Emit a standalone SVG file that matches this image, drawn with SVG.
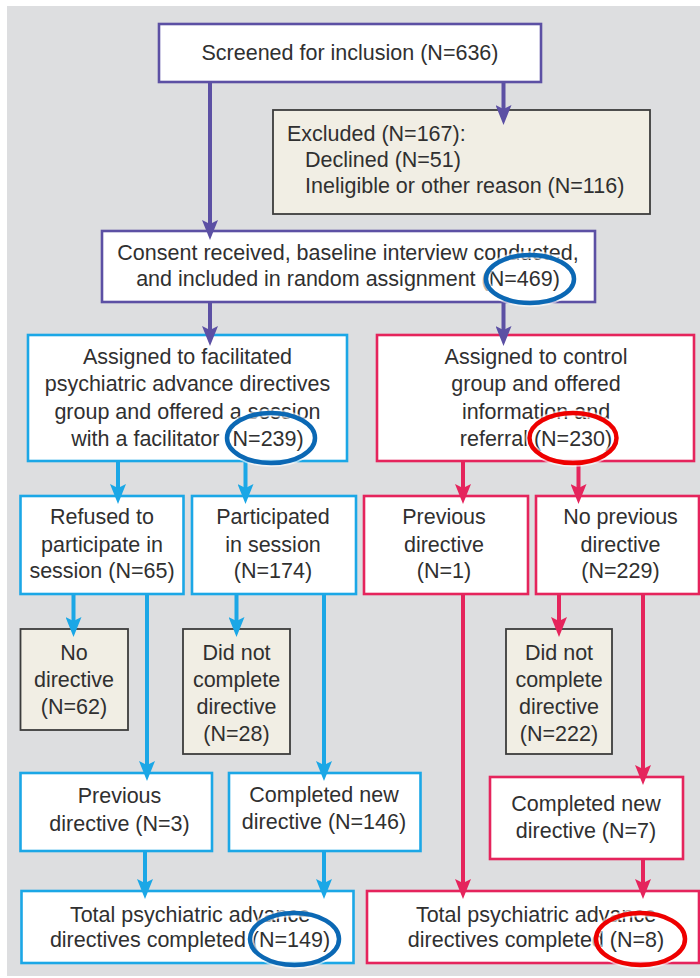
<svg xmlns="http://www.w3.org/2000/svg" width="700" height="978" viewBox="0 0 700 978">
<style>
.t{font-family:"Liberation Sans",Arial,sans-serif;font-size:21.5px;fill:#303030}
.c{text-anchor:middle}
.bp{fill:#fff;stroke:#5c50a4;stroke-width:2.6}
.bb{fill:#fff;stroke:#1ba7e6;stroke-width:2.6}
.br{fill:#fff;stroke:#e5245c;stroke-width:2.6}
.bg{fill:#f1eee4;stroke:#3c3c3c;stroke-width:1.8}
.lp{stroke:#5c50a4;stroke-width:4;fill:none;marker-end:url(#ap)}
.lb{stroke:#1ba7e6;stroke-width:4;fill:none;marker-end:url(#ab)}
.lr{stroke:#e5245c;stroke-width:4;fill:none;marker-end:url(#ar)}
.eh{fill:none;stroke:#fff;stroke-width:8;opacity:0.6}
.eb{fill:none;stroke:#0b68b4;stroke-width:4.5}
.er{fill:none;stroke:#ee0000;stroke-width:4.5}
</style>
<defs>
<marker id="ap" markerUnits="userSpaceOnUse" viewBox="0 0 20 16" refX="12" refY="8" markerWidth="20" markerHeight="16" orient="auto"><path d="M0,0 L20,8 L0,16 L4,8 z" fill="#5c50a4"/></marker>
<marker id="ab" markerUnits="userSpaceOnUse" viewBox="0 0 20 16" refX="12" refY="8" markerWidth="20" markerHeight="16" orient="auto"><path d="M0,0 L20,8 L0,16 L4,8 z" fill="#1ba7e6"/></marker>
<marker id="ar" markerUnits="userSpaceOnUse" viewBox="0 0 20 16" refX="12" refY="8" markerWidth="20" markerHeight="16" orient="auto"><path d="M0,0 L20,8 L0,16 L4,8 z" fill="#e5245c"/></marker>
</defs>
<rect x="0" y="0" width="700" height="978" fill="#fff"/>
<rect x="7" y="6" width="693" height="970" fill="#dddee0"/>

<g id="screened"><rect class="bp" x="159" y="24" width="382" height="58"/><text class="t c" x="350" y="60">Screened for inclusion (N=636)</text></g>
<g id="excluded"><rect class="bg" x="273" y="110" width="377" height="104"/>
<text class="t" x="287" y="141">Excluded (N=167):</text>
<text class="t" x="305" y="167">Declined (N=51)</text>
<text class="t" x="305" y="193">Ineligible or other reason (N=116)</text></g>
<g id="consent"><rect class="bp" x="102" y="231" width="493" height="71"/>
<text class="t c" x="348" y="260">Consent received, baseline interview conducted,</text>
<text class="t c" x="348" y="286">and included in random assignment (N=469)</text></g>
<g id="facilitated"><rect class="bb" x="28" y="335" width="319" height="126"/>
<text class="t c" x="187.5" y="364">Assigned to facilitated</text>
<text class="t c" x="187.5" y="391">psychiatric advance directives</text>
<text class="t c" x="187.5" y="419">group and offered a session</text>
<text class="t c" x="187.5" y="446">with a facilitator (N=239)</text></g>
<g id="control"><rect class="br" x="377" y="335" width="317" height="126"/>
<text class="t c" x="536" y="364">Assigned to control</text>
<text class="t c" x="536" y="391">group and offered</text>
<text class="t c" x="536" y="419">information and</text>
<text class="t c" x="536" y="446">referral (N=230)</text></g>
<g id="refused"><rect class="bb" x="20.5" y="496" width="163" height="98"/>
<text class="t c" x="102" y="524">Refused to</text>
<text class="t c" x="102" y="552">participate in</text>
<text class="t c" x="102" y="578">session (N=65)</text></g>
<g id="participated"><rect class="bb" x="192" y="496" width="164" height="98"/>
<text class="t c" x="273" y="524">Participated</text>
<text class="t c" x="273" y="552">in session</text>
<text class="t c" x="273" y="578">(N=174)</text></g>
<g id="ctrl-previous"><rect class="br" x="364" y="496" width="164" height="98"/>
<text class="t c" x="444" y="524">Previous</text>
<text class="t c" x="444" y="552">directive</text>
<text class="t c" x="444" y="578">(N=1)</text></g>
<g id="ctrl-noprevious"><rect class="br" x="536" y="496" width="163" height="98"/>
<text class="t c" x="620.5" y="524">No previous</text>
<text class="t c" x="620.5" y="552">directive</text>
<text class="t c" x="620.5" y="578">(N=229)</text></g>
<g id="no-directive"><rect class="bg" x="20.5" y="629" width="107.5" height="101"/>
<text class="t c" x="74" y="660">No</text>
<text class="t c" x="74" y="687">directive</text>
<text class="t c" x="74" y="714">(N=62)</text></g>
<g id="did-not-28"><rect class="bg" x="183" y="629" width="107" height="125"/>
<text class="t c" x="236.5" y="660">Did not</text>
<text class="t c" x="236.5" y="687">complete</text>
<text class="t c" x="236.5" y="714">directive</text>
<text class="t c" x="236.5" y="741">(N=28)</text></g>
<g id="did-not-222"><rect class="bg" x="506" y="629" width="106" height="125"/>
<text class="t c" x="559" y="660">Did not</text>
<text class="t c" x="559" y="687">complete</text>
<text class="t c" x="559" y="714">directive</text>
<text class="t c" x="559" y="741">(N=222)</text></g>
<g id="fac-previous"><rect class="bb" x="20.5" y="773" width="191.5" height="78"/>
<text class="t c" x="119.5" y="803">Previous</text>
<text class="t c" x="119.5" y="831">directive (N=3)</text></g>
<g id="fac-completed"><rect class="bb" x="229" y="773" width="191.5" height="78"/>
<text class="t c" x="324" y="802">Completed new</text>
<text class="t c" x="324" y="829">directive (N=146)</text></g>
<g id="ctrl-completed"><rect class="br" x="490" y="777" width="193" height="82"/>
<text class="t c" x="586" y="811">Completed new</text>
<text class="t c" x="586" y="838">directive (N=7)</text></g>
<g id="fac-total"><rect class="bb" x="21.5" y="891" width="332" height="72"/>
<text class="t c" x="190" y="922">Total psychiatric advance</text>
<text class="t c" x="190" y="947">directives completed (N=149)</text></g>
<g id="ctrl-total"><rect class="br" x="367" y="891" width="332" height="72"/>
<text class="t c" x="536" y="922">Total psychiatric advance</text>
<text class="t c" x="536" y="947">directives completed (N=8)</text></g>

<g id="connectors">
<path class="lp" d="M210,82 V232"/>
<path class="lp" d="M503.5,82 V117"/>
<path class="lp" d="M210,302 V338"/>
<path class="lp" d="M503.5,302 V338"/>
<path class="lb" d="M118,461 V496"/>
<path class="lb" d="M245.5,461 V496"/>
<path class="lb" d="M73.5,594 V629"/>
<path class="lb" d="M147,594 V773"/>
<path class="lb" d="M236.5,594 V629"/>
<path class="lb" d="M324,594 V773"/>
<path class="lb" d="M145,851 V891"/>
<path class="lb" d="M324,851 V891"/>
<path class="lr" d="M463,461 V496"/>
<path class="lr" d="M578.5,461 V496"/>
<path class="lr" d="M463,594 V891"/>
<path class="lr" d="M559,594 V629"/>
<path class="lr" d="M643,594 V777"/>
<path class="lr" d="M643,859 V891"/>
</g>

<g id="highlights">
<ellipse class="eh" cx="530" cy="279" rx="44" ry="24"/>
<ellipse class="eb" cx="530" cy="279" rx="44" ry="24"/>
<ellipse class="eh" cx="271" cy="438" rx="44" ry="25"/>
<ellipse class="eb" cx="271" cy="438" rx="44" ry="25"/>
<ellipse class="eh" cx="573" cy="438" rx="43.5" ry="25"/>
<ellipse class="er" cx="573" cy="438" rx="43.5" ry="25"/>
<ellipse class="eh" cx="294.5" cy="939" rx="44.5" ry="26"/>
<ellipse class="eb" cx="294.5" cy="939" rx="44.5" ry="26"/>
<ellipse class="eh" cx="640.5" cy="939" rx="44.5" ry="26"/>
<ellipse class="er" cx="640.5" cy="939" rx="44.5" ry="26"/>
</g>
</svg>
